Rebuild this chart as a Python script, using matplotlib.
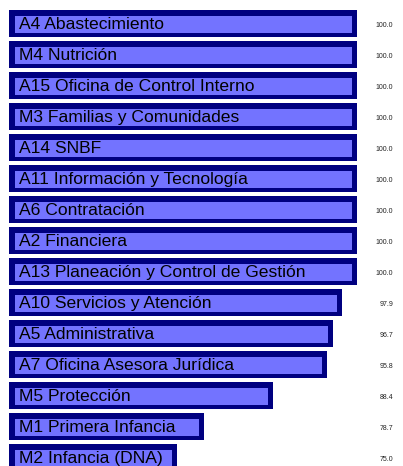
import matplotlib
matplotlib.use("Agg")
import matplotlib.pyplot as plt

plt.rcParams['font.family'] = ['Liberation Sans', 'DejaVu Sans']

labels = ["A4 Abastecimiento", "M4 Nutrición", "A15 Oficina de Control Interno",
          "M3 Familias y Comunidades", "A14 SNBF", "A11 Información y Tecnología",
          "A6 Contratación", "A2 Financiera", "A13 Planeación y Control de Gestión",
          "A10 Servicios y Atención", "A5 Administrativa", "A7 Oficina Asesora Jurídica",
          "M5 Protección", "M1 Primera Infancia", "M2 Infancia (DNA)"]
values = [100.0, 100.0, 100.0, 100.0, 100.0, 100.0, 100.0, 100.0, 100.0,
          97.9, 96.7, 95.8, 88.4, 78.7, 75.0]

base = 51.67      # value where the bars start
ppu = 7.2         # pixels per unit
x0 = base - 9 / ppu

fig = plt.figure(figsize=(4.03, 4.66), dpi=100)
ax = fig.add_axes([0, 0, 1, 1])
ax.set_xlim(x0, x0 + 403 / ppu)
ax.set_ylim((466 - 23.75) / 31, -23.75 / 31)
ax.axis('off')

ys = list(range(len(values)))
ax.barh(ys, [v - base for v in values], left=base, height=0.887, color='#000080')
inner_left = x0 + 15 / ppu
ax.barh([y + 0.015 for y in ys], [v - 5 / ppu - inner_left for v in values],
        left=inner_left, height=0.55, color='#7373ff')

for y, lab, v in zip(ys, labels, values):
    ax.text(x0 + 19 / ppu, y - 0.01, lab, ha='left', va='center_baseline',
            fontsize=12.6, color='black')
    ax.text(x0 + 393 / ppu, y + 0.03, f"{v:.1f}", ha='right', va='center_baseline',
            fontsize=5, color='#222222')

fig.savefig("out.png", dpi=100)
